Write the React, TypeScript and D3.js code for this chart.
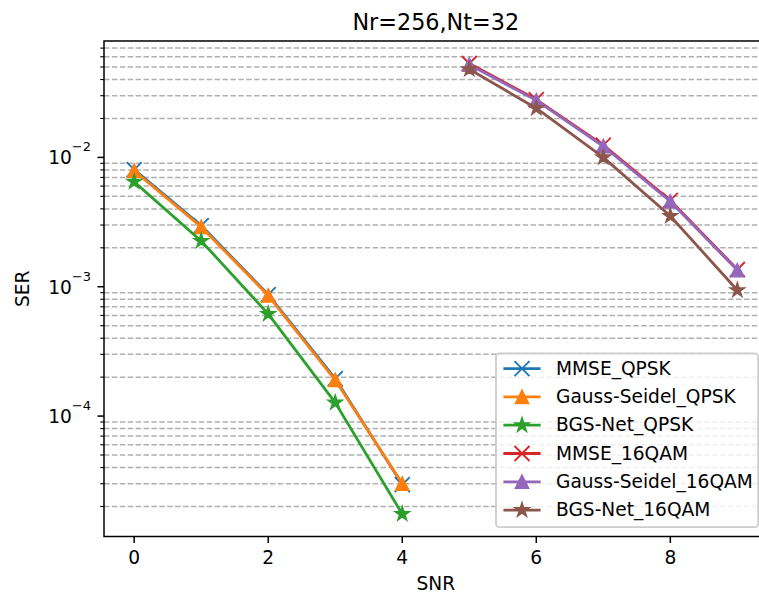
import React from "react";
import * as d3 from "d3";

const snrQPSK = [0, 1, 2, 3, 4];
const snr16QAM = [5, 6, 7, 8, 9];

const mmseQPSK = [0.00805, 0.00297, 0.00087, 0.000195, 2.95e-5];
const gsQPSK = [0.00788, 0.0029, 0.000855, 0.00019, 3.0e-5];
const bgsQPSK = [0.00648, 0.00226, 0.000616, 0.000127, 1.75e-5];
const mmse16QAM = [0.0532, 0.0280, 0.01245, 0.00465, 0.00136];
const gs16QAM = [0.0521, 0.0276, 0.0122, 0.00456, 0.00134];
const bgs16QAM = [0.048, 0.024, 0.01, 0.00352, 0.00094];

const seriesNames = [
  "MMSE_QPSK",
  "Gauss-Seidel_QPSK",
  "BGS-Net_QPSK",
  "MMSE_16QAM",
  "Gauss-Seidel_16QAM",
  "BGS-Net_16QAM",
];
const xTicks = [0, 2, 4, 6, 8];
const yMajorExp = [-2, -3, -4];
const title = "Nr=256,Nt=32";
const xLabel = "SNR";
const yLabel = "SER";

type Marker = "x" | "tri" | "star";
const series: { name: string; xs: number[]; ys: number[]; color: string; marker: Marker }[] = [
  { name: seriesNames[0], xs: snrQPSK, ys: mmseQPSK, color: "#1f77b4", marker: "x" },
  { name: seriesNames[1], xs: snrQPSK, ys: gsQPSK, color: "#ff7f0e", marker: "tri" },
  { name: seriesNames[2], xs: snrQPSK, ys: bgsQPSK, color: "#2ca02c", marker: "star" },
  { name: seriesNames[3], xs: snr16QAM, ys: mmse16QAM, color: "#d62728", marker: "x" },
  { name: seriesNames[4], xs: snr16QAM, ys: gs16QAM, color: "#9467bd", marker: "tri" },
  { name: seriesNames[5], xs: snr16QAM, ys: bgs16QAM, color: "#8c564b", marker: "star" },
];

const W = 759;
const H = 599;
const L = 104;
const R = 767.5;
const T = 41;
const B = 536.5;
const FONT = "DejaVu Sans, Verdana, sans-serif";
const FS = 18.6;

function markerPath(m: Marker): string {
  if (m === "x") {
    const h = 7.5;
    return `M${-h},${-h}L${h},${h}M${-h},${h}L${h},${-h}`;
  }
  if (m === "tri") {
    const r = 6.3;
    return `M0,${-r}L${-r},${r}L${r},${r}Z`;
  }
  const r = 6.8;
  const ri = r * 0.381966;
  let p = "";
  for (let i = 0; i < 10; i++) {
    const rad = i % 2 === 0 ? r : ri;
    const a = (Math.PI / 5) * i;
    const x = rad * Math.sin(a);
    const y = -rad * Math.cos(a);
    p += (i === 0 ? "M" : "L") + x.toFixed(2) + "," + y.toFixed(2);
  }
  return p + "Z";
}

function MarkerEl({ m, color, x, y }: { m: Marker; color: string; x: number; y: number }) {
  const d = markerPath(m);
  if (m === "x") {
    return <path d={d} transform={`translate(${x},${y})`} stroke={color} strokeWidth={1.9} fill="none" />;
  }
  return (
    <path
      d={d}
      transform={`translate(${x},${y})`}
      stroke={color}
      strokeWidth={1.9}
      fill={color}
      strokeLinejoin="miter"
    />
  );
}

export default function App() {
  const allX = series.flatMap((s) => s.xs);
  const allY = series.flatMap((s) => s.ys);
  const xmin = d3.min(allX)!;
  const xmax = d3.max(allX)!;
  const xm = (xmax - xmin) * 0.05;
  const x = d3.scaleLinear().domain([xmin - xm, xmax + xm]).range([L, R]);

  const lmin = Math.log10(d3.min(allY)!);
  const lmax = Math.log10(d3.max(allY)!);
  const lm = (lmax - lmin) * 0.05;
  const y = d3.scaleLog().domain([Math.pow(10, lmin - lm), Math.pow(10, lmax + lm)]).range([B, T]);
  const [ylo, yhi] = y.domain();

  const minorTicks: number[] = [];
  for (let e = Math.floor(Math.log10(ylo)); e <= Math.ceil(Math.log10(yhi)); e++) {
    for (let k = 2; k <= 9; k++) {
      const v = k * Math.pow(10, e);
      if (v >= ylo && v <= yhi) minorTicks.push(v);
    }
  }

  const line = d3
    .line<[number, number]>()
    .x((d) => x(d[0]))
    .y((d) => y(d[1]));

  const legX = 496;
  const legTop = 353.3;
  const legBottom = B - 9.3;
  const legRight = R - 9.3;
  const rowH = 28.3;
  const row0 = 368.6;

  return (
    <svg
      width={W}
      height={H}
      style={{ position: "absolute", left: 0, top: 0, background: "#fff", overflow: "hidden" }}
      fontFamily={FONT}
    >
      <rect x={0} y={0} width={W} height={H} fill="#fff" />
      <defs>
        <clipPath id="plotclip">
          <rect x={L} y={T} width={R - L} height={B - T} />
        </clipPath>
      </defs>

      {/* minor gridlines */}
      <g clipPath="url(#plotclip)">
        {minorTicks.map((v, i) => (
          <line
            key={i}
            x1={L}
            x2={R}
            y1={y(v)}
            y2={y(v)}
            stroke="#b0b0b0"
            strokeWidth={1.5}
            strokeDasharray="5.5,2.4"
          />
        ))}
      </g>

      {/* series */}
      <g clipPath="url(#plotclip)">
        {series.map((s, si) => {
          const pts = s.xs.map((xv, i) => [xv, s.ys[i]] as [number, number]);
          return (
            <g key={si}>
              <path
                d={line(pts)!}
                fill="none"
                stroke={s.color}
                strokeWidth={2.8}
                strokeLinejoin="round"
                strokeLinecap="square"
              />
              {pts.map((p, i) => (
                <MarkerEl key={i} m={s.marker} color={s.color} x={x(p[0])} y={y(p[1])} />
              ))}
            </g>
          );
        })}
      </g>

      {/* frame */}
      <rect x={L} y={T} width={R - L} height={B - T} fill="none" stroke="#000" strokeWidth={1.5} />

      {/* x ticks */}
      {xTicks.map((t) => (
        <g key={t}>
          <line x1={x(t)} x2={x(t)} y1={B} y2={B + 6.5} stroke="#000" strokeWidth={1.5} />
          <text x={x(t)} y={B + 27.2} fontSize={FS} textAnchor="middle" fill="#000">
            {t}
          </text>
        </g>
      ))}

      {/* y minor ticks */}
      {minorTicks.map((v, i) => (
        <line key={i} x1={L - 3.7} x2={L} y1={y(v)} y2={y(v)} stroke="#000" strokeWidth={1.1} />
      ))}

      {/* y major ticks */}
      {yMajorExp.map((e) => {
        const yy = y(Math.pow(10, e));
        return (
          <g key={e}>
            <line x1={L - 6.5} x2={L} y1={yy} y2={yy} stroke="#000" strokeWidth={1.5} />
            <text x={L - 13} y={yy + 6.8} fontSize={FS} textAnchor="end" fill="#000">
              <tspan>10</tspan>
              <tspan fontSize={13} dy={-12.8}>
                {"\u2212" + Math.abs(e)}
              </tspan>
            </text>
          </g>
        );
      })}

      {/* labels */}
      <text x={(L + R) / 2} y={30} fontSize={22.3} textAnchor="middle" fill="#000">
        {title}
      </text>
      <text x={(L + R) / 2} y={589.5} fontSize={FS} textAnchor="middle" fill="#000">
        {xLabel}
      </text>
      <text
        transform={`translate(${29},${(T + B) / 2}) rotate(-90)`}
        fontSize={FS}
        textAnchor="middle"
        fill="#000"
      >
        {yLabel}
      </text>

      {/* legend */}
      <g>
        <rect
          x={legX}
          y={legTop}
          width={legRight - legX}
          height={legBottom - legTop}
          rx={3.7}
          ry={3.7}
          fill="#fff"
          fillOpacity={0.8}
          stroke="#cccccc"
          strokeWidth={1.8}
        />
        {series.map((s, i) => {
          const cy = row0 + i * rowH;
          return (
            <g key={i}>
              <line x1={legX + 7.4} x2={legX + 44.6} y1={cy} y2={cy} stroke={s.color} strokeWidth={2.8} />
              <MarkerEl m={s.marker} color={s.color} x={legX + 26} y={cy} />
              <text x={legX + 60} y={cy + 6} fontSize={FS} fill="#000">
                {s.name}
              </text>
            </g>
          );
        })}
      </g>
    </svg>
  );
}
